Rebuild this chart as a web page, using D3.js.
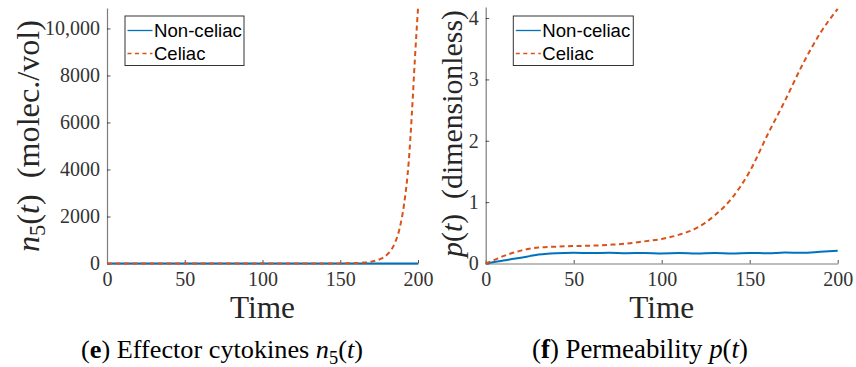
<!DOCTYPE html>
<html>
<head>
<meta charset="utf-8">
<script src="https://cdn.jsdelivr.net/npm/d3@7"></script>
<style>
  html, body { margin: 0; padding: 0; background: #fff; }
  svg { display: block; }
</style>
</head>
<body>
<div id="chart"></div>
<script>
// ---- data ----
const timeTicks = [0, 50, 100, 150, 200];

// panel (e): effector cytokines n5(t)
const timeN5 = [0, 50, 100, 140, 150, 155, 160, 165, 170, 175, 180, 185, 188, 191, 194, 196, 198, 200];
const nonCeliacN5 = [0, 0, 0, 0, 0, 0, 0, 0, 0, 0, 0, 0, 0, 0, 0, 0, 0, 0];
const celiacN5 = [0, 0, 0, 1, 4, 9, 18, 38, 80, 170, 370, 850, 1450, 2500, 4300, 6300, 8700, 10850];
const n5Ticks = [0, 2000, 4000, 6000, 8000, 10000];

// panel (f): permeability p(t)
const timeP = [0, 5, 10, 15, 20, 25, 30, 35, 40, 50, 60, 70, 80, 90, 100, 110, 120, 130, 140, 150, 160, 170, 180, 190, 200];
const nonCeliacP = [0, 0.025, 0.05, 0.072, 0.095, 0.12, 0.145, 0.16, 0.168, 0.175, 0.170, 0.174, 0.168, 0.172, 0.165,
                    0.170, 0.163, 0.170, 0.163, 0.172, 0.168, 0.178, 0.175, 0.19, 0.207];
const celiacP = [0, 0.06, 0.12, 0.17, 0.21, 0.24, 0.26, 0.268, 0.275, 0.285, 0.29, 0.305, 0.325, 0.36, 0.40,
                 0.47, 0.58, 0.78, 1.07, 1.50, 2.09, 2.65, 3.24, 3.75, 4.15];
const pTicks = [0, 1, 2, 3, 4];

const seriesNames = ["Non-celiac", "Celiac"];

// ---- drawing ----
const W = 856, H = 367;
const blue = "#0072BD", orange = "#D95319";
const serif = "Liberation Serif, DejaVu Serif, serif";
const sans = "Liberation Sans, Arial, sans-serif";

const svg = d3.select("#chart").append("svg")
    .attr("width", W)
    .attr("height", H);

// scale a text's font size so it spans the wanted width
function fitWidth(text, target) {
    const fs = parseFloat(text.attr("font-size"));
    const w = text.node().getComputedTextLength();
    if (w > 0) text.attr("font-size", fs * target / w);
}

function drawPanel(p) {
    const x = d3.scaleLinear().domain([0, 200]).range([p.left, p.right]);
    const y = d3.scaleLinear().domain([0, p.yMax]).range([p.bottom, p.top]);
    const g = svg.append("g").attr("font-family", serif);

    const xAxis = g.append("g")
        .attr("transform", "translate(0," + p.bottom + ")")
        .call(d3.axisBottom(x).tickValues(timeTicks).tickSizeInner(-3.5).tickSizeOuter(0).tickPadding(8));
    const yAxis = g.append("g")
        .attr("transform", "translate(" + p.left + ",0)")
        .call(d3.axisLeft(y).tickValues(p.ticks).tickSizeInner(-3.5).tickSizeOuter(0).tickPadding(7)
            .tickFormat(d => d >= 10000 ? d3.format(",")(d) : d));

    [xAxis, yAxis].forEach(a => {
        a.attr("font-family", serif).attr("font-size", 20);
        a.select(".domain").attr("stroke", "#7d7d7d").attr("stroke-width", 1.2);
        a.selectAll(".tick line").attr("stroke", "#262626").attr("stroke-width", 0.8);
        a.selectAll(".tick text")
            .attr("fill", "#333")
            .attr("font-family", serif)
            .attr("font-size", 20);
    });

    const line = d3.line()
        .x(d => x(d[0]))
        .y(d => y(d[1]))
        .curve(d3.curveMonotoneX);

    g.append("path")
        .datum(d3.zip(p.time, p.nonCeliac))
        .attr("fill", "none")
        .attr("stroke", blue)
        .attr("stroke-width", 2)
        .attr("d", line);

    g.append("path")
        .datum(d3.zip(p.time, p.celiac))
        .attr("fill", "none")
        .attr("stroke", orange)
        .attr("stroke-width", 2)
        .attr("stroke-dasharray", "5,3.5")
        .attr("d", line);

    // legend
    const lg = g.append("g").attr("transform", "translate(" + p.legX + ",15.5)");
    lg.append("rect")
        .attr("x", 0.5).attr("y", 0.5)
        .attr("width", p.legW).attr("height", 49.5)
        .attr("fill", "#fff")
        .attr("stroke", "#333")
        .attr("stroke-width", 1);
    seriesNames.forEach((name, i) => {
        const ly = 15 + i * 23;
        lg.append("line")
            .attr("x1", 3).attr("x2", 28)
            .attr("y1", ly).attr("y2", ly)
            .attr("stroke", i === 0 ? blue : orange)
            .attr("stroke-width", 1.3)
            .attr("stroke-dasharray", i === 0 ? null : "4,3.5");
        const t = lg.append("text")
            .attr("x", 29.5).attr("y", ly + 6.5)
            .attr("font-size", 18.5)
            .attr("font-family", sans)
            .attr("fill", "#000")
            .text(name);
        if (i === 0) fitWidth(t, 88);
    });

    // y label (rotated)
    const yl = g.append("text")
        .attr("transform", "translate(" + p.ylx + "," + p.yly + ") rotate(-90)")
        .attr("text-anchor", "middle")
        .attr("dy", "0.33em")
        .attr("font-size", 28)
        .attr("fill", "#262626")
        .attr("font-family", serif);
    p.ylabel(yl);
    fitWidth(yl, p.ylLen);

    // x label
    const xl = g.append("text")
        .attr("x", (p.left + p.right) / 2)
        .attr("y", 318)
        .attr("text-anchor", "middle")
        .attr("font-size", 28)
        .attr("fill", "#262626")
        .attr("font-family", serif)
        .text("Time");
    fitWidth(xl, 65);

    // caption
    const cap = g.append("text")
        .attr("x", p.capX)
        .attr("y", 358)
        .attr("text-anchor", "middle")
        .attr("font-size", 26)
        .attr("fill", "#000")
        .attr("font-family", serif);
    p.caption(cap);
    fitWidth(cap, p.capLen);
}

function mathLabel(t, letter, sub, rest) {
    t.append("tspan").style("font-style", "italic").text(letter);
    if (sub) {
        t.append("tspan").attr("font-size", "0.7em").attr("dy", "0.3em").text(sub);
        t.append("tspan").attr("dy", "-0.21em").text("(");
    } else {
        t.append("tspan").text("(");
    }
    t.append("tspan").style("font-style", "italic").text("t");
    t.append("tspan").text(")" + (rest || ""));
}

drawPanel({
    left: 107, right: 418, top: 8, bottom: 263.5, yMax: 10870,
    ticks: n5Ticks, time: timeN5, nonCeliac: nonCeliacN5, celiac: celiacN5,
    legX: 124.5, legW: 119,
    ylx: 28, yly: 136, ylLen: 232,
    ylabel: t => mathLabel(t, "n", "5", "\u2002(molec./vol)"),
    capX: 222, capLen: 282,
    caption: t => {
        t.append("tspan").text("(");
        t.append("tspan").style("font-weight", "bold").text("e");
        t.append("tspan").text(") Effector cytokines ");
        mathLabel(t, "n", "5");
    }
});

drawPanel({
    left: 485.7, right: 837.7, top: 7, bottom: 263.5, yMax: 4.18,
    ticks: pTicks, time: timeP, nonCeliac: nonCeliacP, celiac: celiacP,
    legX: 512.8, legW: 120,
    ylx: 452, yly: 133.5, ylLen: 247,
    ylabel: t => mathLabel(t, "p", null, "\u2002(dimensionless)"),
    capX: 640, capLen: 216,
    caption: t => {
        t.append("tspan").text("(");
        t.append("tspan").style("font-weight", "bold").text("f");
        t.append("tspan").text(") Permeability ");
        mathLabel(t, "p", null);
    }
});
</script>
</body>
</html>
